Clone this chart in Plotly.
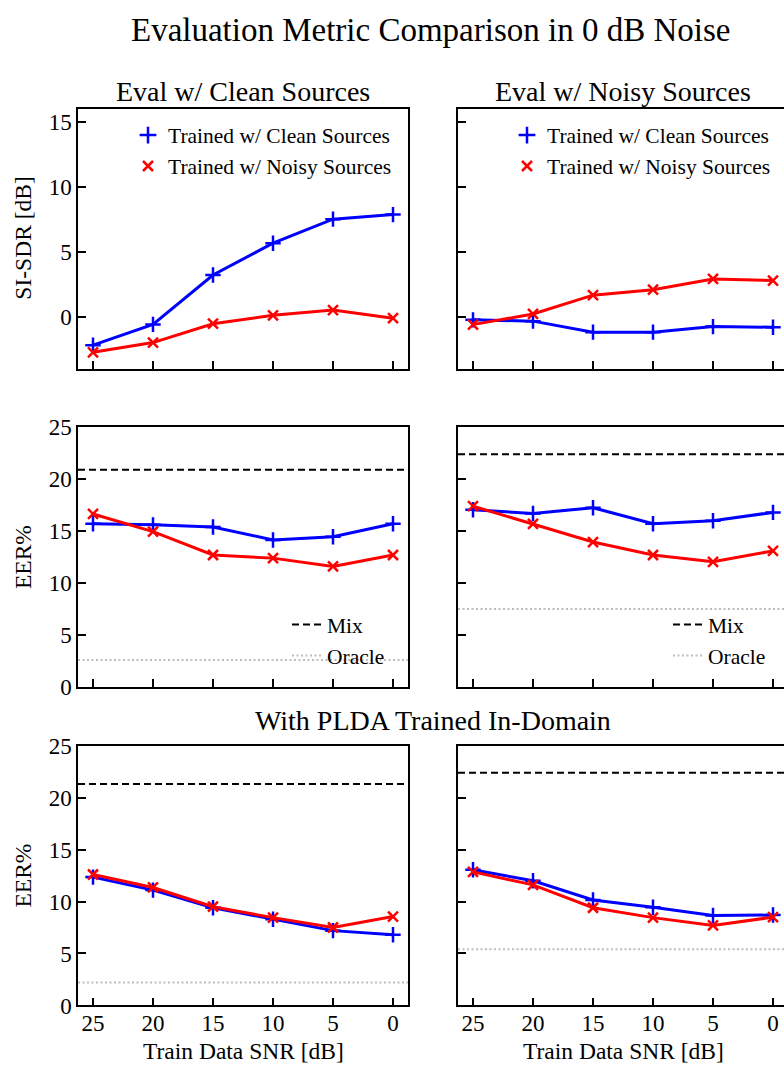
import plotly.graph_objects as go

# ---------------- data ----------------
snr = [25, 20, 15, 10, 5, 0]
snr_ticks = [25, 20, 15, 10, 5, 0]

# Row 1: SI-SDR [dB]
sisdr_evalclean_trclean = [-2.2, -0.6, 3.2, 5.65, 7.5, 7.85]
sisdr_evalclean_trnoisy = [-2.75, -2.0, -0.55, 0.1, 0.5, -0.12]
sisdr_evalnoisy_trclean = [-0.25, -0.35, -1.2, -1.2, -0.77, -0.82]
sisdr_evalnoisy_trnoisy = [-0.62, 0.2, 1.65, 2.07, 2.9, 2.77]

# Row 2: EER %
eer_evalclean_trclean = [15.7, 15.6, 15.4, 14.15, 14.45, 15.7]
eer_evalclean_trnoisy = [16.65, 14.95, 12.7, 12.4, 11.6, 12.7]
eer_evalnoisy_trclean = [17.05, 16.7, 17.25, 15.7, 16.0, 16.8]
eer_evalnoisy_trnoisy = [17.4, 15.7, 13.95, 12.7, 12.05, 13.1]

# Row 3: EER % with PLDA trained in-domain
eer_ind_evalclean_trclean = [12.35, 11.1, 9.4, 8.3, 7.2, 6.8]
eer_ind_evalclean_trnoisy = [12.6, 11.35, 9.5, 8.45, 7.5, 8.55]
eer_ind_evalnoisy_trclean = [13.05, 12.0, 10.15, 9.45, 8.65, 8.7]
eer_ind_evalnoisy_trnoisy = [12.85, 11.6, 9.4, 8.45, 7.7, 8.5]

# reference levels [eval clean, eval noisy]
mix_eer = [20.9, 22.4]
oracle_eer = [2.6, 7.5]
mix_eer_ind = [21.3, 22.4]
oracle_eer_ind = [2.2, 5.4]

col_titles = ["Eval w/ Clean Sources", "Eval w/ Noisy Sources"]
series_names = ["Trained w/ Clean Sources", "Trained w/ Noisy Sources"]
ref_names = ["Mix", "Oracle"]
main_title = "Evaluation Metric Comparison in 0 dB Noise"
row3_title = "With PLDA Trained In-Domain"
y_titles = ["SI-SDR [dB]", "EER%", "EER%"]
x_title = "Train Data SNR [dB]"
y_ranges = [[-4, 16], [0, 25], [0, 25]]
y_ticks = [[0, 5, 10, 15], [0, 5, 10, 15, 20, 25], [0, 5, 10, 15, 20, 25]]

# ---------------- layout geometry (pixels) ----------------
W, H = 784, 1080
FONT = "Liberation Serif"
BLUE, RED = "#0000ff", "#ff0000"
col_px = [(78, 408), (458, 788)]
row_px = [(99, 365), (425, 691), (751, 1017)]
PLUS_SIZE, X_SIZE = 11, 10

fig = go.Figure()
layout = {}

span = max(snr) - min(snr)
x_lo_full = max(snr) + 0.05 * span
x_hi_full = min(snr) - 0.05 * span

panels = [
    [(sisdr_evalclean_trclean, sisdr_evalclean_trnoisy), (sisdr_evalnoisy_trclean, sisdr_evalnoisy_trnoisy)],
    [(eer_evalclean_trclean, eer_evalclean_trnoisy), (eer_evalnoisy_trclean, eer_evalnoisy_trnoisy)],
    [(eer_ind_evalclean_trclean, eer_ind_evalclean_trnoisy), (eer_ind_evalnoisy_trclean, eer_ind_evalnoisy_trnoisy)],
]
refs = [None, (mix_eer, oracle_eer), (mix_eer_ind, oracle_eer_ind)]

def fx(px):
    return px / W

def fy(px):
    return 1 - px / H

for r in range(3):
    for c in range(2):
        i = r * 2 + c + 1
        xa, ya = f"x{i}", f"y{i}"
        x0, x1 = col_px[c]
        vis_x1 = min(x1, W)
        # clip range to the visible pixel area (right column runs off the page)
        ppx = (x1 - x0) / (x_lo_full - x_hi_full)
        xr = [x_lo_full, x_lo_full - (vis_x1 - x0) / ppx]
        layout[f"xaxis{i}"] = dict(
            domain=[fx(x0), fx(vis_x1)], range=xr, anchor=ya,
            tickvals=snr_ticks, ticktext=[str(t) for t in snr_ticks],
            showticklabels=(r == 2), ticks="inside", ticklen=8, tickwidth=1.5,
            tickcolor="black", showline=True, linecolor="black", linewidth=1.5,
            mirror=True, showgrid=False, zeroline=False, ticklabelstandoff=-4,
            tickfont=dict(family=FONT, size=23, color="black"),
        )
        layout[f"yaxis{i}"] = dict(
            domain=[fy(row_px[r][1]), fy(row_px[r][0])], range=y_ranges[r], anchor=xa,
            tickvals=y_ticks[r], showticklabels=(c == 0), ticks="inside", ticklen=8,
            tickwidth=1.5, tickcolor="black", showline=True, linecolor="black",
            linewidth=1.5, mirror=(c == 0), showgrid=False, zeroline=False,
            tickfont=dict(family=FONT, size=23, color="black"),
        )
        clean_vals, noisy_vals = panels[r][c]
        for vals, color, sym in ((clean_vals, BLUE, "cross-thin"), (noisy_vals, RED, "x-thin")):
            fig.add_trace(go.Scatter(
                x=snr, y=vals, mode="lines+markers", xaxis=xa, yaxis=ya, showlegend=False,
                line=dict(color=color, width=3),
                marker=dict(symbol=sym, size=PLUS_SIZE if sym == "cross-thin" else X_SIZE,
                            color=color, line=dict(color=color, width=2.5)),
            ))
        if refs[r] is not None:
            mix_vals, orc_vals = refs[r]
            leg = "legend3" if c == 0 else "legend4"
            fig.add_shape(type="line", xref=f"{xa} domain", yref=ya, x0=0, x1=1,
                          y0=mix_vals[c], y1=mix_vals[c],
                          line=dict(color="black", width=2, dash="7px,4px"),
                          showlegend=(r == 1), name=ref_names[0], legend=leg)
            fig.add_shape(type="line", xref=f"{xa} domain", yref=ya, x0=0, x1=1,
                          y0=orc_vals[c], y1=orc_vals[c],
                          line=dict(color="#bdbdbd", width=2, dash="2px,2.5px"),
                          showlegend=(r == 1), name=ref_names[1], legend=leg)

# legend-only marker entries for the SI-SDR panels
for c, leg in ((0, "legend"), (1, "legend2")):
    xa, ya = f"x{c + 1}", f"y{c + 1}"
    for name, color, sym in ((series_names[0], BLUE, "cross-thin"), (series_names[1], RED, "x-thin")):
        fig.add_trace(go.Scatter(
            x=[None], y=[None], mode="markers", xaxis=xa, yaxis=ya, name=name, legend=leg,
            marker=dict(symbol=sym, size=PLUS_SIZE + 1 if sym == "cross-thin" else X_SIZE,
                        color=color, line=dict(color=color, width=2.5)),
        ))

legfont = dict(family=FONT, size=21.5, color="black")
def legend_at(text_left_px, top_px):
    return dict(x=fx(text_left_px - 40), y=fy(top_px), xanchor="left", yanchor="top",
                bgcolor="rgba(0,0,0,0)", font=legfont, borderwidth=0, tracegroupgap=0)

layout["legend"] = legend_at(168, 105)
layout["legend2"] = legend_at(547, 105)
layout["legend3"] = legend_at(327, 606)
layout["legend4"] = legend_at(708, 606)

annotations = []
annotations.append(dict(text=main_title, x=fx(430), y=fy(18), xref="paper", yref="paper",
                        showarrow=False, xanchor="center", yanchor="middle",
                        font=dict(family=FONT, size=33, color="black")))
for c in range(2):
    cx = (col_px[c][0] + col_px[c][1]) / 2
    annotations.append(dict(text=col_titles[c], x=fx(cx), y=fy(81), xref="paper", yref="paper",
                            showarrow=False, xanchor="center", yanchor="middle",
                            font=dict(family=FONT, size=28, color="black")))
    annotations.append(dict(text=x_title, x=fx(cx), y=fy(1064), xref="paper", yref="paper",
                            showarrow=False, xanchor="center", yanchor="middle",
                            font=dict(family=FONT, size=23.5, color="black")))
annotations.append(dict(text=row3_title, x=fx(433), y=fy(725), xref="paper", yref="paper",
                        showarrow=False, xanchor="center", yanchor="middle",
                        font=dict(family=FONT, size=28, color="black")))
for r in range(3):
    cy = (row_px[r][0] + row_px[r][1]) / 2
    annotations.append(dict(text=y_titles[r], x=fx(23), y=fy(cy), xref="paper", yref="paper",
                            showarrow=False, xanchor="center", yanchor="middle", textangle=-90,
                            font=dict(family=FONT, size=23.5, color="black")))

fig.update_layout(
    width=W, height=H, margin=dict(l=0, r=0, t=0, b=0),
    paper_bgcolor="white", plot_bgcolor="white",
    font=dict(family=FONT, color="black"),
    annotations=annotations, **layout,
)

fig.write_html("out.html", post_script="document.body.style.margin='0px';",
               config={"displayModeBar": False})
